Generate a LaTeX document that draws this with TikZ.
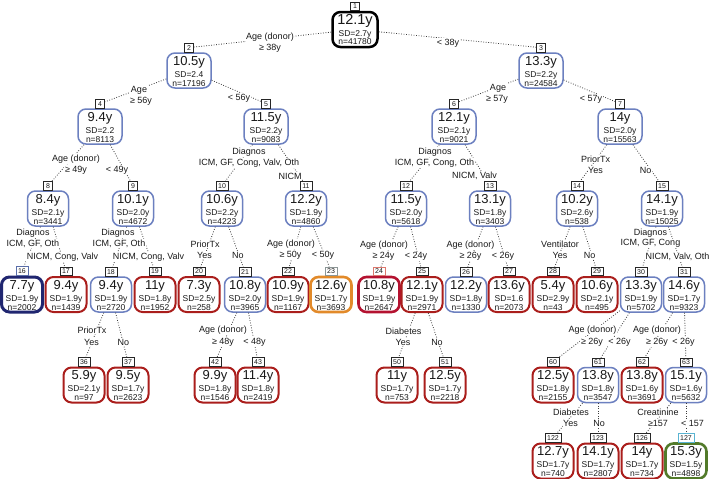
\documentclass[tikz,border=0pt]{standalone}
\usepackage{fontspec}
\setmainfont{Liberation Sans}
\usetikzlibrary{calc}
\definecolor{bluebox}{RGB}{108,128,192}
\definecolor{redbox}{RGB}{170,30,28}
\definecolor{navybox}{RGB}{32,38,112}
\definecolor{orangebox}{RGB}{226,138,42}
\definecolor{greenbox}{RGB}{82,122,42}
\definecolor{crimsonbox}{RGB}{180,18,48}
\definecolor{edgecol}{RGB}{60,60,60}
\definecolor{txtcol}{RGB}{25,25,25}
\definecolor{lblsalmon}{RGB}{220,120,110}
\definecolor{lblblue}{RGB}{90,110,170}
\definecolor{lblgrey}{RGB}{140,150,150}
\definecolor{lblcyan}{RGB}{90,180,210}
\tikzset{
  bx/.style={rectangle, rounded corners=8pt, minimum width=41pt, minimum height=35pt, inner sep=0pt},
  wd/.style={minimum width=44pt},
  bl/.style={bx, draw=bluebox, line width=1.5pt},
  rd/.style={bx, draw=redbox, line width=2pt},
  nv/.style={bx, draw=navybox, line width=3pt},
  og/.style={bx, draw=orangebox, line width=2.6pt},
  gr/.style={bx, draw=greenbox, line width=2.6pt},
  cr/.style={bx, draw=crimsonbox, line width=2.6pt},
  bk/.style={bx, draw=black, line width=2.5pt, minimum width=45pt},
  numbox/.style={draw=black!85, line width=0.6pt, fill=white, inner xsep=2.3pt, inner ysep=0pt, minimum height=8.6pt, minimum width=9.5pt, font=\fontsize{7}{7}\selectfont, text=txtcol, anchor=south},
  valt/.style={anchor=base, inner sep=0pt, font=\fontsize{13}{13}\selectfont, text=txtcol},
  sdt/.style={anchor=base, inner sep=0pt, font=\fontsize{8.5}{8.5}\selectfont, text=txtcol},
  edge/.style={draw=edgecol, line width=0.8pt, dash pattern=on 0.8pt off 1.7pt},
  el/.style={fill=white, inner sep=0.6pt, font=\fontsize{9}{9}\selectfont, text=txtcol},
}
\newcommand\TreeNd[9]{%
  \node[#4] (#1) at (#2,#3) {};
  \node[numbox,#9] (#1l) at (#1.north) {#5};
  \node[valt] (#1a) at ($(#1.center)+(0,-5.5)$) {#6};
  \node[sdt] (#1b) at ($(#1.center)+(0,6.5)$) {#7};
  \node[sdt] (#1c) at ($(#1.center)+(0,15.5)$) {#8};
}
\begin{document}
\begin{tikzpicture}[x=1pt,y=-1pt]
\useasboundingbox[fill=white] (0,0) rectangle (710,479);
% row 0
\TreeNd{n1}{355}{29.5}{bk}{1}{\fontsize{14.5}{14.5}\selectfont 12.1y}{SD=2.7y}{n=41780}{}
% row 1
\TreeNd{n2}{189}{70.5}{bl,wd}{2}{10.5y}{SD=2.4}{n=17196}{}
\TreeNd{n3}{541}{70.5}{bl,wd}{3}{13.3y}{SD=2.2y}{n=24584}{}
% row 2
\TreeNd{n4}{100}{126.5}{bl,wd}{4}{9.4y}{SD=2.2}{n=8113}{}
\TreeNd{n5}{266}{126.5}{bl,wd}{5}{11.5y}{SD=2.2y}{n=9083}{}
\TreeNd{n6}{454}{126.5}{bl,wd}{6}{12.1y}{SD=2.1y}{n=9021}{}
\TreeNd{n7}{620}{126.5}{bl,wd}{7}{14y}{SD=2.0y}{n=15563}{}
% row 3
\TreeNd{n8}{48}{208.5}{bl}{8}{8.4y}{SD=2.1y}{n=3441}{}
\TreeNd{n9}{133}{208.5}{bl}{9}{10.1y}{SD=2.0y}{n=4672}{}
\TreeNd{n10}{222}{208.5}{bl}{10}{10.6y}{SD=2.2y}{n=4223}{}
\TreeNd{n11}{306}{208.5}{bl}{11}{12.2y}{SD=1.9y}{n=4860}{}
\TreeNd{n12}{406}{208.5}{bl}{12}{11.5y}{SD=2.0y}{n=5618}{}
\TreeNd{n13}{490}{208.5}{bl}{13}{13.1y}{SD=1.8y}{n=3403}{}
\TreeNd{n14}{577}{208.5}{bl}{14}{10.2y}{SD=2.6y}{n=538}{}
\TreeNd{n15}{662}{208.5}{bl}{15}{14.1y}{SD=1.9y}{n=15025}{}
% row 4
\TreeNd{n16}{22}{294.5}{nv}{16}{7.7y}{SD=1.9y}{n=2002}{draw=lblblue}
\TreeNd{n17}{66}{294.5}{rd}{17}{9.4y}{SD=1.9y}{n=1439}{}
\TreeNd{n18}{111}{294.5}{bl}{18}{9.4y}{SD=1.9y}{n=2720}{}
\TreeNd{n19}{155}{294.5}{rd}{19}{11y}{SD=1.8y}{n=1952}{}
\TreeNd{n20}{199}{294.5}{rd}{20}{7.3y}{SD=2.5y}{n=258}{}
\TreeNd{n21}{245}{294.5}{bl}{21}{10.8y}{SD=2.0y}{n=3965}{}
\TreeNd{n22}{288}{294.5}{rd}{22}{10.9y}{SD=1.9y}{n=1167}{}
\TreeNd{n23}{331}{294.5}{og}{23}{12.6y}{SD=1.7y}{n=3693}{draw=lblgrey}
\TreeNd{n24}{379}{294.5}{cr}{24}{10.8y}{SD=1.9y}{n=2647}{draw=lblsalmon}
\TreeNd{n25}{422}{294.5}{rd}{25}{12.1y}{SD=1.9y}{n=2971}{}
\TreeNd{n26}{466}{294.5}{bl}{26}{12.2y}{SD=1.8y}{n=1330}{}
\TreeNd{n27}{509}{294.5}{rd}{27}{13.6y}{SD=1.6}{n=2073}{}
\TreeNd{n28}{553}{294.5}{rd}{28}{5.4y}{SD=2.9y}{n=43}{}
\TreeNd{n29}{597}{294.5}{rd}{29}{10.6y}{SD=2.1y}{n=495}{}
\TreeNd{n30}{641}{294.5}{bl}{30}{13.3y}{SD=1.9y}{n=5702}{}
\TreeNd{n31}{684}{294.5}{bl}{31}{14.6y}{SD=1.7y}{n=9323}{}
% row 5
\TreeNd{n36}{84}{385}{rd}{36}{5.9y}{SD=2.1y}{n=97}{}
\TreeNd{n37}{128}{385}{rd}{37}{9.5y}{SD=1.7y}{n=2623}{}
\TreeNd{n42}{215}{385}{rd}{42}{9.9y}{SD=1.8y}{n=1546}{}
\TreeNd{n43}{258}{385}{rd}{43}{11.4y}{SD=1.8y}{n=2419}{}
\TreeNd{n50}{397}{385}{rd}{50}{11y}{SD=1.7y}{n=753}{}
\TreeNd{n51}{445}{385}{rd}{51}{12.5y}{SD=1.7y}{n=2218}{}
\TreeNd{n60}{553}{385}{rd}{60}{12.5y}{SD=1.8y}{n=2155}{}
\TreeNd{n61}{598}{385}{bl}{61}{13.8y}{SD=1.8y}{n=3547}{}
\TreeNd{n62}{642}{385}{rd}{62}{13.8y}{SD=1.6y}{n=3691}{}
\TreeNd{n63}{686}{385}{bl}{63}{15.1y}{SD=1.6y}{n=5632}{}
% row 6
\TreeNd{n122}{553}{461}{rd}{122}{12.7y}{SD=1.7y}{n=740}{}
\TreeNd{n123}{598}{461}{rd}{123}{14.1y}{SD=1.7y}{n=2807}{}
\TreeNd{n126}{642}{461}{rd}{126}{14y}{SD=1.7y}{n=734}{}
\TreeNd{n127}{686}{461}{gr}{127}{15.3y}{SD=1.5y}{n=4898}{draw=lblcyan}
% edges
\draw[edge] (n1) -- (n2l);   \draw[edge] (n1) -- (n3l);
\draw[edge] (n2) -- (n4l);   \draw[edge] (n2) -- (n5l);
\draw[edge] (n3) -- (n6l);   \draw[edge] (n3) -- (n7l);
\draw[edge] (n4) -- (n8l);   \draw[edge] (n4) -- (n9l);
\draw[edge] (n5) -- (n10l);  \draw[edge] (n5) -- (n11l);
\draw[edge] (n6) -- (n12l);  \draw[edge] (n6) -- (n13l);
\draw[edge] (n7) -- (n14l);  \draw[edge] (n7) -- (n15l);
\draw[edge] (n8) -- (n16l);  \draw[edge] (n8) -- (n17l);
\draw[edge] (n9) -- (n18l);  \draw[edge] (n9) -- (n19l);
\draw[edge] (n10) -- (n20l); \draw[edge] (n10) -- (n21l);
\draw[edge] (n11) -- (n22l); \draw[edge] (n11) -- (n23l);
\draw[edge] (n12) -- (n24l); \draw[edge] (n12) -- (n25l);
\draw[edge] (n13) -- (n26l); \draw[edge] (n13) -- (n27l);
\draw[edge] (n14) -- (n28l); \draw[edge] (n14) -- (n29l);
\draw[edge] (n15) -- (n30l); \draw[edge] (n15) -- (n31l);
\draw[edge] (n18) -- (n36l); \draw[edge] (n18) -- (n37l);
\draw[edge] (n21) -- (n42l); \draw[edge] (n21) -- (n43l);
\draw[edge] (n25) -- (n50l); \draw[edge] (n25) -- (n51l);
\draw[edge] (n30) -- (n60l); \draw[edge] (n30) -- (n61l);
\draw[edge] (n31) -- (n62l); \draw[edge] (n31) -- (n63l);
\draw[edge] (n61) -- (n122l); \draw[edge] (n61) -- (n123l);
\draw[edge] (n63) -- (n126l); \draw[edge] (n63) -- (n127l);
% split labels
\node[el] (e2a) at (270,37) {Age (donor)};
\node[el] (e2b) at (270,48.5) {≥ 38y};
\node[el] (e3) at (448,43) {< 38y};
\node[el] (e4a) at (139,90) {Age};
\node[el] (e4b) at (141,101.5) {≥ 56y};
\node[el] (e5) at (239,98) {< 56y};
\node[el] (e6a) at (498,88) {Age};
\node[el] (e6b) at (497,99) {≥ 57y};
\node[el] (e7) at (591,99) {< 57y};
\node[el] (e8a) at (76,159) {Age (donor)};
\node[el] (e8b) at (76,170) {≥ 49y};
\node[el] (e9) at (117,170) {< 49y};
\node[el] (e10a) at (249,152) {Diagnos};
\node[el] (e10b) at (249,163) {ICM, GF, Cong, Valv, Oth};
\node[el] (e11) at (290,176) {NICM};
\node[el] (e12a) at (435,152) {Diagnos};
\node[el] (e12b) at (434.5,163) {ICM, GF, Cong, Oth};
\node[el] (e13) at (474.5,176) {NICM, Valv};
\node[el] (e14a) at (595.5,159) {PriorTx};
\node[el] (e14b) at (595.5,170) {Yes};
\node[el] (e15) at (645.5,170) {No};
\node[el] (e16a) at (33,233) {Diagnos};
\node[el] (e16b) at (33,243.5) {ICM, GF, Oth};
\node[el] (e17) at (62.5,257) {NICM, Cong, Valv};
\node[el] (e18a) at (118,233) {Diagnos};
\node[el] (e18b) at (119,243.5) {ICM, GF, Oth};
\node[el] (e19) at (148.5,257) {NICM, Cong, Valv};
\node[el] (e20a) at (205,244) {PriorTx};
\node[el] (e20b) at (204.5,255) {Yes};
\node[el] (e21) at (238,255) {No};
\node[el] (e22a) at (291,244) {Age (donor)};
\node[el] (e22b) at (290.5,255) {≥ 50y};
\node[el] (e23) at (323,255) {< 50y};
\node[el] (e24a) at (384,245) {Age (donor)};
\node[el] (e24b) at (383.5,256.5) {≥ 24y};
\node[el] (e25) at (416,256.5) {< 24y};
\node[el] (e26a) at (470.5,245) {Age (donor)};
\node[el] (e26b) at (470.5,256.5) {≥ 26y};
\node[el] (e27) at (503,256.5) {< 26y};
\node[el] (e28a) at (560,244) {Ventilator};
\node[el] (e28b) at (560,255) {Yes};
\node[el] (e29) at (589.5,255) {No};
\node[el] (e30a) at (650.5,233) {Diagnos};
\node[el] (e30b) at (650.5,243.5) {ICM, GF, Cong};
\node[el] (e31) at (677.5,257) {NICM, Valv, Oth};
\node[el] (e36a) at (92,330) {PriorTx};
\node[el] (e36b) at (91.5,342) {Yes};
\node[el] (e37) at (123.5,342) {No};
\node[el] (e42a) at (223,330) {Age (donor)};
\node[el] (e42b) at (223,342) {≥ 48y};
\node[el] (e43) at (254.5,342) {< 48y};
\node[el] (e50a) at (403.5,331) {Diabetes};
\node[el] (e50b) at (403,342) {Yes};
\node[el] (e51) at (437,342) {No};
\node[el] (e60a) at (592.5,330) {Age (donor)};
\node[el] (e60b) at (592,342) {≥ 26y};
\node[el] (e61) at (619.5,342) {< 26y};
\node[el] (e62a) at (657,330) {Age (donor)};
\node[el] (e62b) at (657,342) {≥ 26y};
\node[el] (e63) at (683.5,342) {< 26y};
\node[el] (e122a) at (571,412) {Diabetes};
\node[el] (e122b) at (570.5,423) {Yes};
\node[el] (e123) at (599,423) {No};
\node[el] (e126a) at (658,412) {Creatinine};
\node[el] (e126b) at (658,423) {≥157};
\node[el] (e127) at (692.5,423) {< 157};
\end{tikzpicture}
\end{document}
